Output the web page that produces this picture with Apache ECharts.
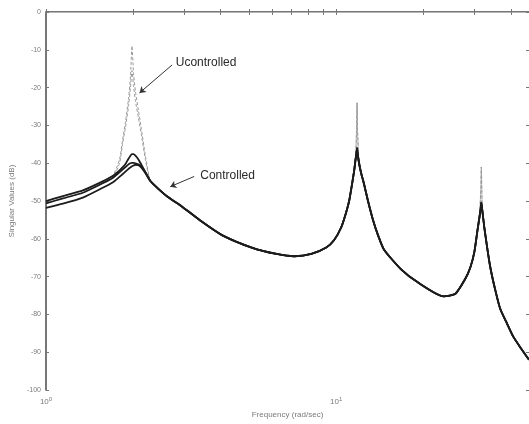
<!DOCTYPE html>
<html>
<head>
<meta charset="utf-8">
<script src="https://cdn.jsdelivr.net/npm/echarts@6/dist/echarts.min.js"></script>
<style>
  html, body { margin: 0; padding: 0; background: #fff; }
  #chart { width: 529px; height: 424px; }
</style>
</head>
<body>
<div id="chart"></div>
<script>
// Low-frequency band around the first mode (rad/sec)
const freqLow = [1.000, 1.144, 1.339, 1.568, 1.696, 1.792, 1.835, 1.879, 1.924, 1.955, 1.978, 2.002, 2.033, 2.082, 2.132, 2.200];
// Controlled singular values in that band (dB)
const ctrlLowA = [-50.0, -48.7, -47.2, -44.8, -43.4, -41.9, -41.1, -40.2, -38.8, -38.0, -37.6, -37.6, -38.0, -39.0, -40.4, -42.3];
const ctrlLowB = [-50.6, -49.3, -47.8, -45.3, -43.9, -42.4, -41.7, -41.0, -40.3, -40.0, -39.9, -39.9, -40.0, -40.3, -41.0, -42.5];
const ctrlLowC = [-51.8, -50.7, -49.1, -46.5, -45.1, -43.6, -42.9, -42.2, -41.5, -41.1, -40.8, -40.6, -40.4, -40.5, -41.2, -42.6];
// Uncontrolled singular values in that band (dB)
const uncLowA = [-50.0, -48.7, -47.2, -44.8, -43.4, -39.0, -34.0, -29.0, -23.0, -17.0, -9.0, -16.0, -21.0, -26.0, -31.0, -38.0];
const uncLowB = [-50.6, -49.3, -47.8, -45.3, -43.9, -40.0, -35.0, -30.5, -25.0, -20.0, -15.5, -19.5, -23.5, -28.0, -32.5, -39.0];

// Remaining band, where all singular values share one curve (rad/sec)
const freqTail = [2.289, 2.418, 2.617, 2.945, 3.449, 4.038, 5.115, 6.23, 7.18, 8.21, 9.24, 9.84, 10.40, 10.82, 11.08, 11.34, 11.53, 11.66, 11.75, 11.80, 11.84, 11.99, 12.18, 12.47, 12.87, 13.39, 13.93, 14.60, 16.70, 19.10, 23.44, 25.76, 27.88, 29.00, 29.92, 30.64, 31.13, 31.50, 31.62, 31.75, 31.88, 32.39, 33.16, 33.96, 35.32, 36.74, 38.82, 40.70, 43.36, 46.17];
const ctrlTail = [-44.7, -46.5, -48.8, -51.5, -55.5, -59.0, -62.3, -64.0, -64.6, -64.0, -62.3, -60.3, -57.0, -53.0, -50.0, -45.5, -42.0, -39.0, -37.2, -36.0, -37.2, -40.0, -42.5, -45.5, -50.0, -55.0, -59.0, -62.8, -68.0, -71.5, -75.2, -74.5, -70.5, -67.5, -63.5, -58.0, -54.5, -51.8, -50.4, -51.5, -52.5, -57.0, -62.5, -67.5, -73.5, -78.5, -82.5, -85.8, -89.0, -92.0];
const uncTail = [-44.7, -46.5, -48.8, -51.5, -55.5, -59.0, -62.3, -64.0, -64.6, -64.0, -62.3, -60.3, -57.0, -53.0, -50.0, -45.5, -42.0, -39.0, -31.0, -24.0, -31.0, -40.0, -42.5, -45.5, -50.0, -55.0, -59.0, -62.8, -68.0, -71.5, -75.2, -74.5, -70.5, -67.5, -63.5, -58.0, -54.5, -47.0, -41.0, -47.0, -52.5, -57.0, -62.5, -67.5, -73.5, -78.5, -82.5, -85.8, -89.0, -92.0];

// Axis settings
const freqMin = 1;
const freqMax = 46.17;
const dbMin = -100;
const dbMax = 0;
const dbStep = 10;
const majorFreqTicks = [1, 10];
const minorFreqTicks = [1, 2, 3, 4, 5, 6, 7, 8, 9, 10, 20, 30, 40];

function pairs(fLow, low, fHigh, high) {
  const out = fLow.map((f, i) => [f, low[i]]);
  fHigh.forEach((f, i) => out.push([f, high[i]]));
  return out;
}

const chart = echarts.init(document.getElementById('chart'), null, { renderer: 'canvas' });

const labelColor = '#7a7a7a';
const fontFamily = 'Liberation Sans, Arial, sans-serif';

function freqAxis(position, showLabels) {
  return {
    type: 'log',
    logBase: 10,
    position: position,
    min: freqMin,
    max: freqMax,
    axisLine: { show: true, lineStyle: { color: position === 'bottom' ? '#4a4a4a' : '#b5b5b5', width: position === 'bottom' ? 1.5 : 1 } },
    axisTick: { show: true, inside: true, length: 3, customValues: minorFreqTicks, lineStyle: { color: '#777' } },
    splitLine: { show: false },
    axisLabel: {
      show: showLabels,
      customValues: majorFreqTicks,
      margin: 6,
      formatter: v => '{b|10}{s|' + Math.round(Math.log10(v)) + '}',
      rich: {
        b: { fontSize: 8, color: labelColor, fontFamily: fontFamily },
        s: { fontSize: 6, color: labelColor, fontFamily: fontFamily, padding: [0, 0, 6, 0] }
      }
    },
    name: showLabels ? 'Frequency (rad/sec)' : '',
    nameLocation: 'middle',
    nameGap: 19,
    nameTextStyle: { fontSize: 8, color: labelColor, fontFamily: fontFamily }
  };
}

function dbAxis(position, showLabels) {
  return {
    type: 'value',
    position: position,
    min: dbMin,
    max: dbMax,
    interval: dbStep,
    axisLine: { show: position === 'left', lineStyle: { color: '#4a4a4a', width: 1.5 } },
    axisTick: { show: true, inside: true, length: 3, lineStyle: { color: '#777' } },
    splitLine: { show: false },
    axisLabel: { show: showLabels, fontSize: 7, color: labelColor, fontFamily: fontFamily, margin: 5 },
    name: showLabels ? 'Singular Values (dB)' : '',
    nameLocation: 'middle',
    nameGap: 30,
    nameRotate: 90,
    nameTextStyle: { fontSize: 8, color: labelColor, fontFamily: fontFamily }
  };
}

const grayLine = { color: '#9a9a9a', width: 1, type: [3, 2] };
const blackLine = { color: '#1c1c1c', width: 1.8 };
const curve = { type: 'line', showSymbol: false, symbol: 'none', smooth: 0.2 };

const option = {
  animation: false,
  backgroundColor: '#fff',
  grid: { left: 43, top: 12, right: 0, bottom: 33 },
  xAxis: [freqAxis('bottom', true), freqAxis('top', false)],
  yAxis: [dbAxis('left', true), dbAxis('right', false)],
  series: [
    Object.assign({ name: 'Uncontrolled 2', lineStyle: grayLine, z: 1,
      data: pairs(freqLow, uncLowB, freqTail, uncTail) }, curve),
    Object.assign({ name: 'Uncontrolled 1', lineStyle: grayLine, z: 1,
      data: pairs(freqLow, uncLowA, freqTail, uncTail),
      markLine: {
        silent: true,
        symbol: ['none', 'arrow'],
        symbolSize: 6,
        label: { show: false },
        lineStyle: { color: '#333', width: 1, type: 'solid' },
        data: [
          [{ coord: [2.72, -14.0] }, { coord: [2.10, -21.4] }],
          [{ coord: [3.24, -43.5] }, { coord: [2.68, -46.2] }]
        ]
      },
      markPoint: {
        silent: true,
        symbol: 'circle',
        symbolSize: 0,
        label: {
          show: true, position: 'right', distance: 0,
          fontSize: 12, color: '#2a2a2a', fontFamily: fontFamily,
          formatter: p => p.name
        },
        data: [
          { name: 'Ucontrolled', coord: [2.80, -13.5] },
          { name: 'Controlled', coord: [3.40, -43.3] }
        ]
      }
    }, curve),
    Object.assign({ name: 'Controlled 3', lineStyle: blackLine, z: 3,
      data: pairs(freqLow, ctrlLowC, freqTail, ctrlTail) }, curve),
    Object.assign({ name: 'Controlled 2', lineStyle: blackLine, z: 3,
      data: pairs(freqLow, ctrlLowB, freqTail, ctrlTail) }, curve),
    Object.assign({ name: 'Controlled 1', lineStyle: blackLine, z: 3,
      data: pairs(freqLow, ctrlLowA, freqTail, ctrlTail) }, curve)
  ]
};

chart.setOption(option);
</script>
</body>
</html>
